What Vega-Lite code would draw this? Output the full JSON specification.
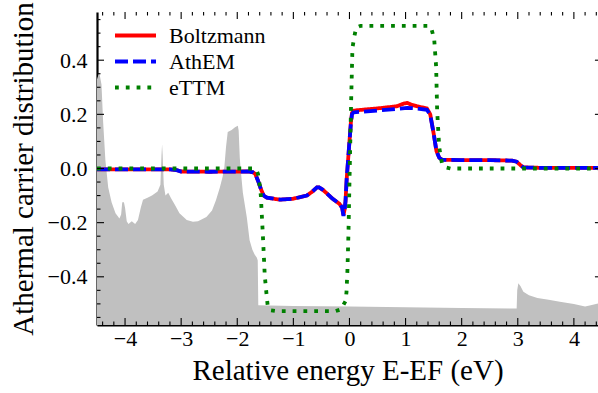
{
  "$schema": "https://vega.github.io/schema/vega-lite/v6.json",
  "width": 501,
  "height": 313,
  "autosize": {"type": "none"},
  "padding": {"left": 97, "top": 12, "right": 0, "bottom": 68},
  "background": "white",
  "datasets": {
    "dos": [
      {"E": -4.5, "v": 0.33}, {"E": -4.46, "v": 0.355}, {"E": -4.42, "v": 0.31}, {"E": -4.39, "v": 0.17},
      {"E": -4.35, "v": 0.03}, {"E": -4.3, "v": -0.07}, {"E": -4.24, "v": -0.125}, {"E": -4.17, "v": -0.165},
      {"E": -4.1, "v": -0.185}, {"E": -4.07, "v": -0.17}, {"E": -4.05, "v": -0.125}, {"E": -4.02, "v": -0.125},
      {"E": -4.0, "v": -0.145}, {"E": -3.97, "v": -0.195}, {"E": -3.94, "v": -0.205}, {"E": -3.88, "v": -0.195},
      {"E": -3.82, "v": -0.205}, {"E": -3.77, "v": -0.19}, {"E": -3.72, "v": -0.145}, {"E": -3.68, "v": -0.115},
      {"E": -3.6, "v": -0.108}, {"E": -3.52, "v": -0.1}, {"E": -3.42, "v": -0.085}, {"E": -3.37, "v": -0.06},
      {"E": -3.35, "v": 0.05}, {"E": -3.34, "v": 0.09}, {"E": -3.33, "v": 0.05}, {"E": -3.31, "v": -0.06},
      {"E": -3.28, "v": -0.1}, {"E": -3.23, "v": -0.09}, {"E": -3.18, "v": -0.11}, {"E": -3.11, "v": -0.135},
      {"E": -3.03, "v": -0.165}, {"E": -2.9, "v": -0.19}, {"E": -2.79, "v": -0.197}, {"E": -2.7, "v": -0.195},
      {"E": -2.55, "v": -0.179}, {"E": -2.45, "v": -0.155}, {"E": -2.38, "v": -0.117}, {"E": -2.31, "v": -0.07},
      {"E": -2.26, "v": -0.03}, {"E": -2.23, "v": 0.006}, {"E": -2.2, "v": 0.08}, {"E": -2.17, "v": 0.135},
      {"E": -2.1, "v": 0.142}, {"E": -2.04, "v": 0.152}, {"E": -1.99, "v": 0.158}, {"E": -1.975, "v": 0.14},
      {"E": -1.955, "v": 0.04}, {"E": -1.94, "v": 0.0}, {"E": -1.9, "v": -0.09}, {"E": -1.83, "v": -0.18},
      {"E": -1.78, "v": -0.265}, {"E": -1.73, "v": -0.3}, {"E": -1.69, "v": -0.318}, {"E": -1.65, "v": -0.33},
      {"E": -1.635, "v": -0.34}, {"E": -1.625, "v": -0.505}, {"E": -1.0, "v": -0.508}, {"E": 0.0, "v": -0.51},
      {"E": 1.0, "v": -0.512}, {"E": 2.0, "v": -0.515}, {"E": 2.98, "v": -0.517}, {"E": 2.99, "v": -0.45},
      {"E": 3.01, "v": -0.424}, {"E": 3.05, "v": -0.435}, {"E": 3.1, "v": -0.455}, {"E": 3.2, "v": -0.468},
      {"E": 3.35, "v": -0.478}, {"E": 3.55, "v": -0.485}, {"E": 3.75, "v": -0.492}, {"E": 4.0, "v": -0.5},
      {"E": 4.2, "v": -0.51}, {"E": 4.3, "v": -0.505}, {"E": 4.5, "v": -0.495}
    ],
    "xt": [
      {"E": -4, "kind": "major"}, {"E": -3, "kind": "major"}, {"E": -2, "kind": "major"}, {"E": -1, "kind": "major"},
      {"E": 0, "kind": "major"}, {"E": 1, "kind": "major"}, {"E": 2, "kind": "major"}, {"E": 3, "kind": "major"}, {"E": 4, "kind": "major"},
      {"E": -4.4, "kind": "minor"}, {"E": -4.2, "kind": "minor"}, {"E": -3.8, "kind": "minor"}, {"E": -3.6, "kind": "minor"},
      {"E": -3.4, "kind": "minor"}, {"E": -3.2, "kind": "minor"}, {"E": -2.8, "kind": "minor"}, {"E": -2.6, "kind": "minor"},
      {"E": -2.4, "kind": "minor"}, {"E": -2.2, "kind": "minor"}, {"E": -1.8, "kind": "minor"}, {"E": -1.6, "kind": "minor"},
      {"E": -1.4, "kind": "minor"}, {"E": -1.2, "kind": "minor"}, {"E": -0.8, "kind": "minor"}, {"E": -0.6, "kind": "minor"},
      {"E": -0.4, "kind": "minor"}, {"E": -0.2, "kind": "minor"}, {"E": 0.2, "kind": "minor"}, {"E": 0.4, "kind": "minor"},
      {"E": 0.6, "kind": "minor"}, {"E": 0.8, "kind": "minor"}, {"E": 1.2, "kind": "minor"}, {"E": 1.4, "kind": "minor"},
      {"E": 1.6, "kind": "minor"}, {"E": 1.8, "kind": "minor"}, {"E": 2.2, "kind": "minor"}, {"E": 2.4, "kind": "minor"},
      {"E": 2.6, "kind": "minor"}, {"E": 2.8, "kind": "minor"}, {"E": 3.2, "kind": "minor"}, {"E": 3.4, "kind": "minor"},
      {"E": 3.6, "kind": "minor"}, {"E": 3.8, "kind": "minor"}, {"E": 4.2, "kind": "minor"}, {"E": 4.4, "kind": "minor"}
    ],
    "yt": [
      {"f": -0.4, "kind": "major"}, {"f": -0.2, "kind": "major"}, {"f": 0, "kind": "major"}, {"f": 0.2, "kind": "major"}, {"f": 0.4, "kind": "major"},
      {"f": -0.55, "kind": "minor"}, {"f": -0.5, "kind": "minor"}, {"f": -0.45, "kind": "minor"}, {"f": -0.35, "kind": "minor"},
      {"f": -0.3, "kind": "minor"}, {"f": -0.25, "kind": "minor"}, {"f": -0.15, "kind": "minor"}, {"f": -0.1, "kind": "minor"},
      {"f": -0.05, "kind": "minor"}, {"f": 0.05, "kind": "minor"}, {"f": 0.1, "kind": "minor"}, {"f": 0.15, "kind": "minor"},
      {"f": 0.25, "kind": "minor"}, {"f": 0.3, "kind": "minor"}, {"f": 0.35, "kind": "minor"}, {"f": 0.45, "kind": "minor"},
      {"f": 0.5, "kind": "minor"}, {"f": 0.55, "kind": "minor"}
    ],
    "lines": [
      {"series": "Boltzmann", "E": -4.5, "f": -0.003}, {"series": "Boltzmann", "E": -3.2, "f": -0.003},
      {"series": "Boltzmann", "E": -3.08, "f": -0.006}, {"series": "Boltzmann", "E": -3.0, "f": -0.011},
      {"series": "Boltzmann", "E": -2.5, "f": -0.012}, {"series": "Boltzmann", "E": -1.8, "f": -0.011},
      {"series": "Boltzmann", "E": -1.72, "f": -0.014}, {"series": "Boltzmann", "E": -1.68, "f": -0.02},
      {"series": "Boltzmann", "E": -1.63, "f": -0.045}, {"series": "Boltzmann", "E": -1.58, "f": -0.075},
      {"series": "Boltzmann", "E": -1.53, "f": -0.1}, {"series": "Boltzmann", "E": -1.47, "f": -0.108},
      {"series": "Boltzmann", "E": -1.24, "f": -0.115}, {"series": "Boltzmann", "E": -1.01, "f": -0.112},
      {"series": "Boltzmann", "E": -0.76, "f": -0.1}, {"series": "Boltzmann", "E": -0.66, "f": -0.085},
      {"series": "Boltzmann", "E": -0.58, "f": -0.07}, {"series": "Boltzmann", "E": -0.54, "f": -0.07},
      {"series": "Boltzmann", "E": -0.48, "f": -0.078}, {"series": "Boltzmann", "E": -0.44, "f": -0.085},
      {"series": "Boltzmann", "E": -0.3, "f": -0.112}, {"series": "Boltzmann", "E": -0.18, "f": -0.13},
      {"series": "Boltzmann", "E": -0.13, "f": -0.145}, {"series": "Boltzmann", "E": -0.107, "f": -0.172},
      {"series": "Boltzmann", "E": -0.085, "f": -0.15}, {"series": "Boltzmann", "E": -0.07, "f": -0.12},
      {"series": "Boltzmann", "E": -0.05, "f": -0.04}, {"series": "Boltzmann", "E": -0.025, "f": 0.03},
      {"series": "Boltzmann", "E": 0.0, "f": 0.1}, {"series": "Boltzmann", "E": 0.025, "f": 0.17},
      {"series": "Boltzmann", "E": 0.045, "f": 0.205}, {"series": "Boltzmann", "E": 0.07, "f": 0.213},
      {"series": "Boltzmann", "E": 0.12, "f": 0.215}, {"series": "Boltzmann", "E": 0.5, "f": 0.222},
      {"series": "Boltzmann", "E": 0.85, "f": 0.23}, {"series": "Boltzmann", "E": 0.97, "f": 0.24},
      {"series": "Boltzmann", "E": 1.03, "f": 0.242}, {"series": "Boltzmann", "E": 1.1, "f": 0.236},
      {"series": "Boltzmann", "E": 1.2, "f": 0.23}, {"series": "Boltzmann", "E": 1.38, "f": 0.222},
      {"series": "Boltzmann", "E": 1.44, "f": 0.2}, {"series": "Boltzmann", "E": 1.5, "f": 0.13},
      {"series": "Boltzmann", "E": 1.55, "f": 0.065}, {"series": "Boltzmann", "E": 1.6, "f": 0.04},
      {"series": "Boltzmann", "E": 1.65, "f": 0.032}, {"series": "Boltzmann", "E": 2.0, "f": 0.031},
      {"series": "Boltzmann", "E": 2.5, "f": 0.031}, {"series": "Boltzmann", "E": 2.9, "f": 0.029},
      {"series": "Boltzmann", "E": 2.98, "f": 0.025}, {"series": "Boltzmann", "E": 3.05, "f": 0.012},
      {"series": "Boltzmann", "E": 3.1, "f": 0.004}, {"series": "Boltzmann", "E": 3.5, "f": 0.002},
      {"series": "Boltzmann", "E": 4.5, "f": 0.002},

      {"series": "AthEM", "E": -4.5, "f": -0.003}, {"series": "AthEM", "E": -3.2, "f": -0.003},
      {"series": "AthEM", "E": -3.08, "f": -0.006}, {"series": "AthEM", "E": -3.0, "f": -0.011},
      {"series": "AthEM", "E": -2.5, "f": -0.012}, {"series": "AthEM", "E": -1.8, "f": -0.011},
      {"series": "AthEM", "E": -1.72, "f": -0.014}, {"series": "AthEM", "E": -1.68, "f": -0.02},
      {"series": "AthEM", "E": -1.63, "f": -0.045}, {"series": "AthEM", "E": -1.58, "f": -0.075},
      {"series": "AthEM", "E": -1.53, "f": -0.1}, {"series": "AthEM", "E": -1.47, "f": -0.108},
      {"series": "AthEM", "E": -1.24, "f": -0.115}, {"series": "AthEM", "E": -1.01, "f": -0.112},
      {"series": "AthEM", "E": -0.76, "f": -0.1}, {"series": "AthEM", "E": -0.66, "f": -0.085},
      {"series": "AthEM", "E": -0.58, "f": -0.07}, {"series": "AthEM", "E": -0.54, "f": -0.07},
      {"series": "AthEM", "E": -0.48, "f": -0.078}, {"series": "AthEM", "E": -0.44, "f": -0.085},
      {"series": "AthEM", "E": -0.3, "f": -0.112}, {"series": "AthEM", "E": -0.18, "f": -0.13},
      {"series": "AthEM", "E": -0.13, "f": -0.145}, {"series": "AthEM", "E": -0.107, "f": -0.175},
      {"series": "AthEM", "E": -0.085, "f": -0.15}, {"series": "AthEM", "E": -0.07, "f": -0.12},
      {"series": "AthEM", "E": -0.05, "f": -0.04}, {"series": "AthEM", "E": -0.025, "f": 0.03},
      {"series": "AthEM", "E": 0.0, "f": 0.1}, {"series": "AthEM", "E": 0.025, "f": 0.165},
      {"series": "AthEM", "E": 0.045, "f": 0.2}, {"series": "AthEM", "E": 0.07, "f": 0.207},
      {"series": "AthEM", "E": 0.12, "f": 0.208}, {"series": "AthEM", "E": 0.5, "f": 0.214},
      {"series": "AthEM", "E": 0.85, "f": 0.22}, {"series": "AthEM", "E": 1.03, "f": 0.224},
      {"series": "AthEM", "E": 1.2, "f": 0.222}, {"series": "AthEM", "E": 1.38, "f": 0.217},
      {"series": "AthEM", "E": 1.44, "f": 0.198}, {"series": "AthEM", "E": 1.5, "f": 0.13},
      {"series": "AthEM", "E": 1.55, "f": 0.065}, {"series": "AthEM", "E": 1.6, "f": 0.04},
      {"series": "AthEM", "E": 1.65, "f": 0.032}, {"series": "AthEM", "E": 2.0, "f": 0.031},
      {"series": "AthEM", "E": 2.5, "f": 0.031}, {"series": "AthEM", "E": 2.9, "f": 0.029},
      {"series": "AthEM", "E": 2.98, "f": 0.025}, {"series": "AthEM", "E": 3.05, "f": 0.012},
      {"series": "AthEM", "E": 3.1, "f": 0.004}, {"series": "AthEM", "E": 3.5, "f": 0.002},
      {"series": "AthEM", "E": 4.5, "f": 0.002},

      {"series": "eTTM", "E": -4.5, "f": 0.0}, {"series": "eTTM", "E": -1.7, "f": 0.0},
      {"series": "eTTM", "E": -1.66, "f": -0.005}, {"series": "eTTM", "E": -1.63, "f": -0.02},
      {"series": "eTTM", "E": -1.6, "f": -0.06}, {"series": "eTTM", "E": -1.58, "f": -0.1},
      {"series": "eTTM", "E": -1.545, "f": -0.24}, {"series": "eTTM", "E": -1.51, "f": -0.395},
      {"series": "eTTM", "E": -1.475, "f": -0.472}, {"series": "eTTM", "E": -1.455, "f": -0.512},
      {"series": "eTTM", "E": -1.4, "f": -0.524}, {"series": "eTTM", "E": -1.3, "f": -0.527},
      {"series": "eTTM", "E": -0.25, "f": -0.527}, {"series": "eTTM", "E": -0.15, "f": -0.52},
      {"series": "eTTM", "E": -0.071, "f": -0.49}, {"series": "eTTM", "E": -0.053, "f": -0.457},
      {"series": "eTTM", "E": -0.036, "f": -0.375}, {"series": "eTTM", "E": -0.018, "f": -0.24},
      {"series": "eTTM", "E": 0.005, "f": 0.0}, {"series": "eTTM", "E": 0.03, "f": 0.25},
      {"series": "eTTM", "E": 0.053, "f": 0.445}, {"series": "eTTM", "E": 0.089, "f": 0.49},
      {"series": "eTTM", "E": 0.12, "f": 0.52}, {"series": "eTTM", "E": 0.2, "f": 0.527},
      {"series": "eTTM", "E": 1.4, "f": 0.527}, {"series": "eTTM", "E": 1.456, "f": 0.52},
      {"series": "eTTM", "E": 1.51, "f": 0.478}, {"series": "eTTM", "E": 1.545, "f": 0.375},
      {"series": "eTTM", "E": 1.563, "f": 0.213}, {"series": "eTTM", "E": 1.6, "f": 0.078},
      {"series": "eTTM", "E": 1.65, "f": 0.017}, {"series": "eTTM", "E": 1.72, "f": 0.004},
      {"series": "eTTM", "E": 1.8, "f": 0.0}, {"series": "eTTM", "E": 4.5, "f": 0.0}
    ]
  },
  "layer": [
    {
      "data": {"name": "dos"},
      "mark": {"type": "area", "color": "#c0c0c0", "clip": true},
      "encoding": {
        "x": {
          "field": "E", "type": "quantitative",
          "scale": {"domain": [-4.5, 4.43], "nice": false, "zero": false},
          "axis": {
            "orient": "bottom", "values": [-4, -3, -2, -1, 0, 1, 2, 3, 4], "format": "d",
            "ticks": false, "tickSize": 0, "labelPadding": 3,
            "title": "Relative energy E-EF (eV)", "titlePadding": 7
          }
        },
        "y": {
          "field": "v", "type": "quantitative",
          "scale": {"domain": [-0.578, 0.578], "nice": false, "zero": false},
          "axis": {
            "orient": "left", "values": [-0.4, -0.2, 0, 0.2, 0.4], "format": ".1f",
            "ticks": false, "tickSize": 0, "labelPadding": 10,
            "title": "Athermal carrier distribution", "titlePadding": 9
          }
        },
        "y2": {"datum": -0.6}
      }
    },
    {
      "mark": {"type": "rule", "color": "black", "strokeWidth": 1.2},
      "encoding": {"y": {"datum": 0, "type": "quantitative", "axis": null}}
    },
    {
      "data": {"name": "lines"},
      "transform": [{"filter": "datum.series === 'Boltzmann'"}],
      "mark": {"type": "line", "clip": true, "strokeWidth": 3.8, "strokeCap": "butt"},
      "encoding": {
        "x": {"field": "E", "type": "quantitative", "axis": null},
        "y": {"field": "f", "type": "quantitative", "axis": null},
        "color": {
          "field": "series", "type": "nominal",
          "scale": {"domain": ["Boltzmann", "AthEM", "eTTM"], "range": ["#ff0000", "#0000ff", "#008000"]},
          "legend": {"orient": "none", "legendX": 26, "legendY": 11, "title": null, "symbolType": "M-2,0H2", "symbolSize": 420, "symbolStrokeWidth": 3.8, "symbolFillColor": "transparent", "labelFont": "Liberation Serif", "labelFontSize": 22, "labelColor": "black", "labelOffset": 21, "padding": 0, "rowPadding": 2}
        },
        "strokeDash": {
          "field": "series", "type": "nominal",
          "scale": {"domain": ["Boltzmann", "AthEM", "eTTM"], "range": [[1, 0], [13, 5], [3.8, 7]]},
          "legend": {"orient": "none", "legendX": 26, "legendY": 11, "title": null, "symbolType": "M-2,0H2", "symbolSize": 420, "symbolStrokeWidth": 3.8, "symbolFillColor": "transparent", "labelFont": "Liberation Serif", "labelFontSize": 22, "labelColor": "black", "labelOffset": 21, "padding": 0, "rowPadding": 2}
        }
      }
    },
    {
      "data": {"name": "lines"},
      "transform": [{"filter": "datum.series === 'AthEM'"}],
      "mark": {"type": "line", "clip": true, "strokeWidth": 3.8, "strokeCap": "butt"},
      "encoding": {
        "x": {"field": "E", "type": "quantitative", "axis": null},
        "y": {"field": "f", "type": "quantitative", "axis": null},
        "color": {"field": "series", "type": "nominal"},
        "strokeDash": {"field": "series", "type": "nominal"}
      }
    },
    {
      "data": {"name": "lines"},
      "transform": [{"filter": "datum.series === 'eTTM'"}],
      "mark": {"type": "line", "clip": true, "strokeWidth": 3.8, "strokeCap": "butt"},
      "encoding": {
        "x": {"field": "E", "type": "quantitative", "axis": null},
        "y": {"field": "f", "type": "quantitative", "axis": null},
        "color": {"field": "series", "type": "nominal"},
        "strokeDash": {"field": "series", "type": "nominal"}
      }
    },
    {
      "data": {"name": "xt"},
      "transform": [{"filter": "datum.kind === 'major'"}],
      "mark": {"type": "rule", "color": "black", "strokeWidth": 1.1},
      "encoding": {
        "x": {"field": "E", "type": "quantitative", "axis": null},
        "y": {"datum": -0.578, "type": "quantitative", "axis": null},
        "y2": {"datum": -0.552}
      }
    },
    {
      "data": {"name": "xt"},
      "transform": [{"filter": "datum.kind === 'minor'"}],
      "mark": {"type": "rule", "color": "black", "strokeWidth": 1.1},
      "encoding": {
        "x": {"field": "E", "type": "quantitative", "axis": null},
        "y": {"datum": -0.578, "type": "quantitative", "axis": null},
        "y2": {"datum": -0.565}
      }
    },
    {
      "data": {"name": "xt"},
      "transform": [{"filter": "datum.kind === 'major'"}],
      "mark": {"type": "rule", "color": "black", "strokeWidth": 1.1},
      "encoding": {
        "x": {"field": "E", "type": "quantitative", "axis": null},
        "y": {"datum": 0.578, "type": "quantitative", "axis": null},
        "y2": {"datum": 0.552}
      }
    },
    {
      "data": {"name": "xt"},
      "transform": [{"filter": "datum.kind === 'minor'"}],
      "mark": {"type": "rule", "color": "black", "strokeWidth": 1.1},
      "encoding": {
        "x": {"field": "E", "type": "quantitative", "axis": null},
        "y": {"datum": 0.578, "type": "quantitative", "axis": null},
        "y2": {"datum": 0.565}
      }
    },
    {
      "data": {"name": "yt"},
      "transform": [{"filter": "datum.kind === 'major'"}],
      "mark": {"type": "rule", "color": "black", "strokeWidth": 1.1},
      "encoding": {
        "y": {"field": "f", "type": "quantitative", "axis": null},
        "x": {"datum": -4.5, "type": "quantitative", "axis": null},
        "x2": {"datum": -4.375}
      }
    },
    {
      "data": {"name": "yt"},
      "transform": [{"filter": "datum.kind === 'minor'"}],
      "mark": {"type": "rule", "color": "black", "strokeWidth": 1.1},
      "encoding": {
        "y": {"field": "f", "type": "quantitative", "axis": null},
        "x": {"datum": -4.5, "type": "quantitative", "axis": null},
        "x2": {"datum": -4.4376}
      }
    },
    {
      "data": {"name": "yt"},
      "transform": [{"filter": "datum.kind === 'major'"}],
      "mark": {"type": "rule", "color": "black", "strokeWidth": 1.1},
      "encoding": {
        "y": {"field": "f", "type": "quantitative", "axis": null},
        "x": {"datum": 4.5, "type": "quantitative", "axis": null},
        "x2": {"datum": 4.375}
      }
    },
    {
      "mark": {"type": "rule", "color": "black", "strokeWidth": 2.2},
      "encoding": {"y": {"datum": 0.578, "type": "quantitative", "axis": null}}
    }
  ],
  "resolve": {"axis": {"x": "independent", "y": "independent"}},
  "config": {
    "view": {"stroke": null},
    "axis": {
      "grid": false, "zindex": 1, "domainColor": "black", "domainWidth": 2.2,
      "labelFont": "Liberation Serif", "labelFontSize": 22, "labelColor": "black",
      "titleFont": "Liberation Serif", "titleFontSize": 29, "titleFontWeight": "normal", "titleColor": "black",
      "labelFlush": false, "labelOverlap": false
    }
  }
}
